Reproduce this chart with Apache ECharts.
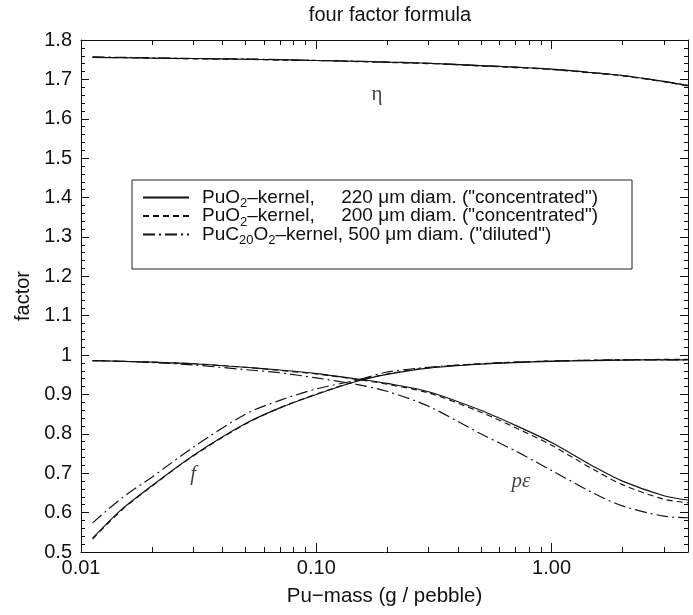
<!DOCTYPE html>
<html>
<head>
<meta charset="utf-8">
<script src="https://cdn.jsdelivr.net/npm/echarts@6/dist/echarts.min.js"></script>
<style>
  html, body { margin: 0; padding: 0; background: #fff; }
  #chart { width: 693px; height: 615px; }
</style>
</head>
<body>
<div id="chart"></div>
<script>
// Pu mass per pebble (g) at which the factors are sampled
const puMass = [0.0112, 0.015, 0.02, 0.03, 0.05, 0.07, 0.1, 0.15, 0.2, 0.3, 0.5, 0.7, 1.0, 1.5, 2.0, 3.0, 3.8];

// reproduction factor eta
const eta220 = [1.756, 1.755, 1.754, 1.753, 1.751, 1.750, 1.748, 1.746, 1.744, 1.741, 1.735, 1.731, 1.726, 1.717, 1.710, 1.695, 1.684];
const eta200 = [1.756, 1.755, 1.754, 1.752, 1.751, 1.749, 1.748, 1.745, 1.743, 1.740, 1.734, 1.730, 1.725, 1.716, 1.709, 1.694, 1.683];
const eta500 = [1.757, 1.756, 1.755, 1.753, 1.752, 1.750, 1.748, 1.746, 1.744, 1.741, 1.735, 1.731, 1.726, 1.717, 1.710, 1.695, 1.685];

// thermal utilisation f
const f220 = [0.535, 0.610, 0.668, 0.745, 0.826, 0.866, 0.900, 0.934, 0.951, 0.967, 0.977, 0.981, 0.984, 0.986, 0.987, 0.988, 0.988];
const f200 = [0.533, 0.608, 0.667, 0.744, 0.825, 0.866, 0.901, 0.935, 0.952, 0.968, 0.978, 0.982, 0.985, 0.987, 0.988, 0.989, 0.989];
const f500 = [0.574, 0.638, 0.690, 0.766, 0.850, 0.885, 0.914, 0.937, 0.957, 0.969, 0.978, 0.982, 0.985, 0.987, 0.988, 0.988, 0.988];

// resonance escape times fast fission, p*epsilon
const pe220 = [0.986, 0.984, 0.982, 0.978, 0.969, 0.962, 0.953, 0.939, 0.928, 0.907, 0.860, 0.822, 0.778, 0.718, 0.680, 0.643, 0.632];
const pe200 = [0.986, 0.984, 0.982, 0.978, 0.969, 0.961, 0.952, 0.938, 0.926, 0.904, 0.855, 0.816, 0.771, 0.710, 0.671, 0.634, 0.625];
const pe500 = [0.986, 0.984, 0.981, 0.975, 0.963, 0.955, 0.942, 0.925, 0.908, 0.870, 0.800, 0.757, 0.707, 0.650, 0.617, 0.591, 0.587];

const kernelNames = ['PuO2 220', 'PuO2 200', 'PuC20O2 500'];
const kernelLabels = [
  'PuO{s|2}–kernel,     220 μm diam. ("concentrated")',
  'PuO{s|2}–kernel,     200 μm diam. ("concentrated")',
  'PuC{s|20}O{s|2}–kernel, 500 μm diam. ("diluted")'
];
const lineTypes = ['solid', [6, 4], [12, 4, 2, 4]];

const xMajorTicks = [0.01, 0.1, 1];
const xMinorTicks = [0.02, 0.03, 0.04, 0.05, 0.06, 0.07, 0.08, 0.09,
                     0.2, 0.3, 0.4, 0.5, 0.6, 0.7, 0.8, 0.9, 2, 3];

const FONT = 'Liberation Sans, Arial, Helvetica, sans-serif';
const INK = '#111';

function pairs(ys) { return puMass.map((x, i) => [x, ys[i]]); }

const groups = [
  [eta220, f220, pe220],
  [eta200, f200, pe200],
  [eta500, f500, pe500]
];

const series = [];
groups.forEach((g, k) => {
  g.forEach(vals => {
    series.push({
      name: kernelNames[k],
      type: 'line',
      xAxisIndex: 0,
      yAxisIndex: 0,
      data: pairs(vals),
      smooth: 0.3,
      symbol: 'none',
      silent: true,
      lineStyle: { color: INK, width: 1.15, type: lineTypes[k] },
      itemStyle: { color: INK },
      z: 3
    });
  });
});

// curve tags
series.push({
  name: 'tags',
  type: 'scatter',
  xAxisIndex: 0,
  yAxisIndex: 0,
  symbolSize: 0,
  silent: true,
  data: [
    { value: [0.181, 1.662], label: { formatter: 'η', fontStyle: 'normal' } },
    { value: [0.030, 0.698], label: { formatter: 'f' } },
    { value: [0.74, 0.680], label: { formatter: 'pε' } }
  ],
  label: {
    show: true,
    position: 'inside',
    color: INK,
    fontFamily: 'Liberation Serif, Times New Roman, serif',
    fontStyle: 'italic',
    fontSize: 21
  }
});

function xAxisCfg(pos, values, len, showLine, showLabel) {
  return {
    type: 'log',
    logBase: 10,
    min: 0.01,
    max: 3.8,
    position: pos,
    axisLine: { show: showLine, onZero: false, lineStyle: { color: INK, width: 1 } },
    axisTick: { show: true, inside: true, length: len, customValues: values, lineStyle: { color: INK, width: 1 } },
    axisLabel: showLabel ? {
      show: true, customValues: xMajorTicks, margin: 6,
      color: INK, fontFamily: FONT, fontSize: 20,
      formatter: v => Number(v).toFixed(2)
    } : { show: false },
    splitLine: { show: false },
    minorTick: { show: false },
    name: showLabel ? 'Pu−mass (g / pebble)' : '',
    nameLocation: 'middle',
    nameGap: 34,
    nameTextStyle: { color: INK, fontFamily: FONT, fontSize: 20.5 }
  };
}

function yAxisCfg(pos, showLabel) {
  return {
    type: 'value',
    min: 0.5,
    max: 1.8,
    interval: 0.1,
    position: pos,
    axisLine: { show: true, onZero: false, lineStyle: { color: INK, width: 1 } },
    axisTick: { show: true, inside: true, length: 8, lineStyle: { color: INK } },
    minorTick: { show: true, splitNumber: 5, length: 4, lineStyle: { color: INK } },
    axisLabel: showLabel ? { show: true, margin: 9, color: INK, fontFamily: FONT, fontSize: 20 } : { show: false },
    splitLine: { show: false },
    minorSplitLine: { show: false },
    name: showLabel ? 'factor' : '',
    nameLocation: 'middle',
    nameGap: 47,
    nameTextStyle: { color: INK, fontFamily: FONT, fontSize: 20 }
  };
}

const chart = echarts.init(document.getElementById('chart'), null, { renderer: 'canvas' });

chart.setOption({
  backgroundColor: '#fff',
  animation: false,
  title: {
    text: 'four factor formula',
    left: 385,
    top: 0,
    textAlign: 'center',
    textStyle: { color: INK, fontFamily: FONT, fontSize: 20, fontWeight: 'normal' }
  },
  grid: { left: 81, right: 5, top: 40, bottom: 63, outerBoundsMode: 'none' },
  legend: {
    data: kernelNames,
    orient: 'vertical',
    left: 132,
    top: 180,
    itemWidth: 46,
    itemHeight: 12,
    itemGap: -6.5,
    padding: [5, 34, 22, 10],
    borderColor: '#222',
    borderWidth: 1,
    selectedMode: false,
    itemStyle: { opacity: 0 },
    formatter: name => '{g|}' + kernelLabels[kernelNames.indexOf(name)],
    textStyle: {
      color: INK, fontFamily: FONT, fontSize: 19, lineHeight: 18,
      rich: {
        g: { width: 8, lineHeight: 18 },
        s: { fontFamily: FONT, fontSize: 13, lineHeight: 6, padding: [12, 0, 0, 0], color: INK }
      }
    }
  },
  xAxis: [
    xAxisCfg('bottom', xMajorTicks, 9, true, true),
    xAxisCfg('top', xMajorTicks, 9, true, false),
    xAxisCfg('bottom', xMinorTicks, 5, false, false),
    xAxisCfg('top', xMinorTicks, 5, false, false)
  ],
  yAxis: [
    yAxisCfg('left', true),
    yAxisCfg('right', false)
  ],
  series: series
});
</script>
</body>
</html>
